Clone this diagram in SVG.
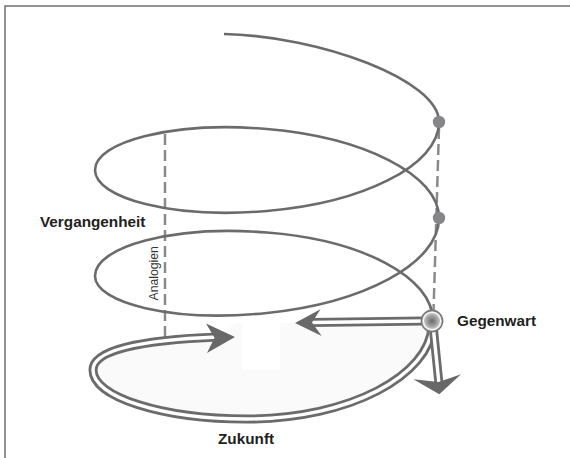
<svg xmlns="http://www.w3.org/2000/svg" width="570" height="458" viewBox="0 0 570 458">
<style>
.frame{fill:none;stroke:#707070;stroke-width:1.5}
.spiral{fill:none;stroke:#6b6b6b;stroke-width:2.6}
.dash{fill:none;stroke:#8a8a8a;stroke-width:2.5;stroke-dasharray:11 5}
.dbo{fill:none;stroke:#6b6b6b;stroke-width:9}
.dbi{fill:none;stroke:#ffffff;stroke-width:3.4}
.head{fill:#686868}
.dot{fill:#86868a}
.lbl{font-family:"Liberation Sans",Arial,sans-serif;font-weight:bold;font-size:15.3px;fill:#231f20}
.small{font-family:"Liberation Sans",Arial,sans-serif;font-size:12.2px;fill:#333}
</style>
<defs>
<radialGradient id="sphere" cx="50%" cy="50%" r="50%">
<stop offset="0" stop-color="#6a6a6a"/>
<stop offset="0.55" stop-color="#a8a8a8"/>
<stop offset="1" stop-color="#ebebeb"/>
</radialGradient>
</defs>
<path class="frame" d="M5,458 V6 H570"/>
<g id="zukunft-area">
<path d="M432,326 C430,375 350,419 247,419 C162,419 93,397 93,370 C93,350 140,340 218,337 L235,323 L432,323 Z" fill="#fafafa"/>
<rect x="242" y="323" width="38" height="47" fill="#ffffff"/>
</g>
<g id="connectors">
<path id="analogy-left" class="dash" d="M165,134 V337"/>
<path id="analogy-right" class="dash" d="M439,128 L433.5,312"/>
<path id="spiral" class="spiral" d="M224,34 C320,36 439,80 439,122 C439,165.9 362,203 267,211 C172,219 95,197.9 95,170 C95,142.1 172,121 267,129 C362,137 439,174.1 439,218 C439,264.1 362,303.3 267,313 C172,322.7 95,302.8 95,276 C95,247 172,225 267,232.5 C362,240 433,277 433,321"/>
<g id="zukunft-loop">
<path class="dbo" d="M432,326 C430,375 350,419 247,419 C162,419 93,397 93,370 C93,350 140,340 218,337"/>
<path class="dbi" d="M432,326 C430,375 350,419 247,419 C162,419 93,397 93,370 C93,350 140,340 218,337"/>
<polygon class="head" points="235,337 206,323.5 214.5,337.8 207,353"/>
</g>
<g id="arrow-left">
<path class="dbo" d="M423,321 L311,322.5"/>
<path class="dbi" d="M423,321 L311,322.5"/>
<polygon class="head" points="295,323 320.5,309.3 312,322.6 321.7,336"/>
</g>
<g id="arrow-down">
<path class="dbo" d="M433.5,330 L439,384"/>
<path class="dbi" d="M433.5,330 L439,384"/>
<polygon class="head" points="439.3,394.3 413.3,379.3 438.6,382 461,374.3"/>
</g>
</g>
<g id="dot1"><circle class="dot" cx="439" cy="122" r="6.2"/></g>
<g id="dot2"><circle class="dot" cx="439" cy="218" r="6.2"/></g>
<g id="gegenwart">
<circle cx="432" cy="321" r="10.6" fill="url(#sphere)" stroke="#777" stroke-width="1.6"/>
<circle cx="432" cy="321" r="8.6" fill="none" stroke="#fff" stroke-width="1.2" opacity="0.9"/>
<text class="lbl" x="457" y="326">Gegenwart</text>
</g>
<g id="vergangenheit"><text class="lbl" x="40" y="227">Vergangenheit</text></g>
<g id="zukunft"><text class="lbl" x="218" y="443.5">Zukunft</text></g>
<g id="analogien"><text class="small" transform="translate(158,300.5) rotate(-90)">Analogien</text></g>
</svg>
